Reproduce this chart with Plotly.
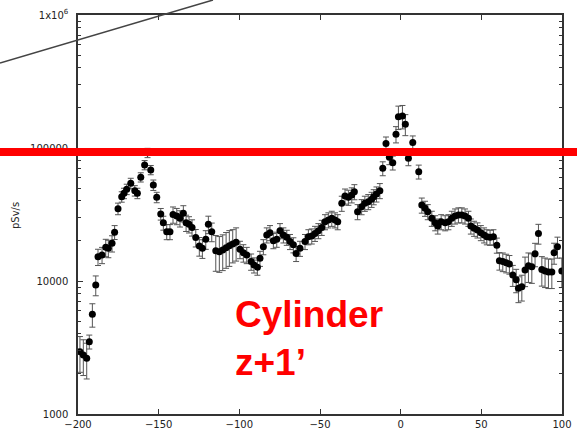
import plotly.graph_objects as go

# position along the cylinder (cm)
z_pos = [
    -198.8, -196.7, -194.6, -193.0, -191.1, -189.0, -187.6, -185.1, -182.8, -181.2,
    -178.9, -177.3, -175.2, -172.9, -171.5, -169.8, -167.3, -164.8, -163.2, -161.1,
    -158.7, -156.9, -154.9, -153.3, -151.2, -148.7, -147.1, -145.0, -143.0, -141.1,
    -138.8, -136.8, -134.7, -133.0, -131.2, -129.3, -127.0, -124.8, -122.9, -120.8,
    -119.2, -117.1, -114.6, -112.4, -110.3, -108.2, -106.2, -104.1, -102.0, -99.6,
    -97.5, -95.4, -92.7, -90.9, -88.8, -87.2, -85.1, -83.0, -81.0, -78.9,
    -76.8, -74.8, -72.7, -70.6, -68.6, -66.5, -64.8, -62.4, -59.3, -57.2,
    -55.1, -53.1, -51.0, -48.9, -46.9, -44.8, -42.7, -40.7, -39.0, -36.5,
    -34.5, -32.4, -30.3, -28.7, -26.7, -24.2, -22.2, -20.1, -18.0, -16.7,
    -15.0, -12.9, -11.1, -9.1, -7.0, -4.9, -2.9, -1.4, 1.1, 2.9,
    4.8, 7.5, 11.2, 13.1, 15.1, 16.8, 19.3, 21.4, 23.0, 25.1,
    27.6, 29.6, 31.7, 33.7, 35.8, 37.9, 39.9, 42.0, 43.5, 45.5,
    47.6, 49.7, 51.7, 53.4, 55.4, 57.5, 59.6, 61.2, 63.3, 65.4,
    67.4, 69.5, 71.6, 73.0, 75.1, 77.1, 79.2, 81.3, 83.3, 85.4,
    87.5, 89.5, 91.6, 93.7, 95.1, 97.2, 99.9,
]

# dose rate (pSv/s)
dose_rate = [
    2940, 2780, 2620, 3500, 5620, 9330, 15200, 15700, 17900, 17600,
    19200, 23300, 35000, 43000, 45700, 49000, 54300, 47800, 45700, 60300,
    74500, 92000, 68400, 52700, 42600, 31900, 27400, 23500, 23500, 31600,
    30800, 29600, 32300, 27400, 26700, 25300, 21200, 18300, 17600, 20600,
    26700, 23500, 16900, 16600, 17100, 17800, 18400, 19000, 19600, 17300,
    16300, 15700, 14000, 13200, 12700, 14800, 18100, 22200, 23100, 20100,
    20600, 23900, 22200, 21300, 19800, 18700, 16100, 17600, 19800, 21500,
    21800, 22800, 23900, 25300, 27900, 28800, 29600, 28800, 27900, 38400,
    43500, 42600, 44400, 46900, 33200, 36200, 38400, 39500, 41100, 43000,
    45100, 47800, 70300, 108000, 85100, 77600, 127000, 172000, 174000, 151000,
    83600, 110000, 66400, 37200, 35200, 33200, 29600, 27400, 25900, 27900,
    27400, 27900, 29600, 30800, 31400, 31400, 30800, 29600, 25900, 24900,
    24200, 23100, 22200, 21500, 21300, 21500, 18600, 14200, 14000, 13700,
    13400, 11100, 10200, 8810, 9060, 12100, 13000, 12800, 16000, 22800,
    12200, 11900, 11700, 11700, 16300, 18100, 11900,
]

# relative uncertainty (%)
err_pct = [
    30, 30, 30, 12, 20, 17, 14, 14, 15, 15,
    14, 12, 10, 9, 9, 9, 9, 9, 9, 8,
    8, 8, 8, 9, 9, 10, 12, 13, 13, 14,
    14, 14, 14, 14, 14, 14, 15, 16, 16, 16,
    15, 16, 30, 30, 30, 30, 30, 28, 28, 15,
    15, 14, 14, 13, 13, 13, 13, 13, 13, 13,
    13, 13, 13, 13, 13, 13, 13, 13, 13, 13,
    13, 13, 13, 13, 13, 13, 13, 13, 13, 13,
    13, 13, 13, 13, 13, 13, 13, 13, 13, 13,
    13, 13, 12, 12, 12, 12, 14, 20, 20, 18,
    12, 12, 12, 13, 13, 13, 13, 13, 13, 13,
    13, 13, 13, 13, 13, 13, 13, 13, 13, 13,
    13, 13, 13, 13, 13, 13, 13, 15, 16, 16,
    16, 18, 20, 22, 22, 25, 25, 25, 20, 17,
    25, 25, 25, 25, 18, 18, 25,
]

x_ticks = [-200, -150, -100, -50, 0, 50, 100]
y_ticks = [1000, 10000, 100000, 1000000]
y_tick_text = ["1000", "10000", "100000", "1x10<sup>6</sup>"]
minor_y = [m * 10 ** e for e in (3, 4, 5) for m in range(2, 10)]

err_abs = [v * p / 100 for v, p in zip(dose_rate, err_pct)]

fig = go.Figure()
fig.add_trace(go.Scatter(
    x=z_pos, y=dose_rate, mode="markers",
    marker=dict(color="black", size=7),
    error_y=dict(type="data", array=err_abs, visible=True,
                 color="#555555", thickness=1, width=3),
    showlegend=False,
))

L, R, T, B = 78, 15, 15, 32
W, H = 577, 446
pw, ph = W - L - R, H - T - B

axis_common = dict(showline=True, linecolor="#333333", linewidth=1.5,
                   mirror="ticks", ticks="inside", ticklen=5, tickcolor="#333333",
                   showgrid=False, zeroline=False, automargin=False,
                   tickfont=dict(family="DejaVu Sans", size=10, color="#222222"))

fig.update_layout(
    template="none",
    width=W, height=H,
    margin=dict(l=L, r=R, t=T, b=B, autoexpand=False),
    paper_bgcolor="white", plot_bgcolor="white",
    xaxis=dict(range=[-200, 100], tickmode="array", tickvals=x_ticks, **axis_common),
    yaxis=dict(type="log", range=[3, 6], tickmode="array", tickvals=y_ticks,
               ticktext=y_tick_text, ticklabelstandoff=6,
               minor=dict(tickmode="array", tickvals=minor_y, ticks="inside",
                          ticklen=3, tickcolor="#333333", showgrid=False),
               **axis_common),
)

# thick red horizontal line across the figure
fig.add_shape(type="line", xref="paper", yref="paper",
              x0=-L / pw, x1=(W - L) / pw,
              y0=(H - B - 152) / ph, y1=(H - B - 152) / ph,
              line=dict(color="#ff0000", width=8), layer="above")

# gray diagonal pointer line
fig.add_shape(type="line", xref="paper", yref="paper",
              x0=-L / pw, y0=(H - B - 63) / ph,
              x1=(213 - L) / pw, y1=(H - B - 0) / ph,
              line=dict(color="#444444", width=1.5), layer="above")

fig.add_annotation(xref="paper", yref="paper", x=(15 - L) / pw, y=(H - B - 215) / ph,
                   xanchor="center", yanchor="middle",
                   text="pSv/s", textangle=-90, showarrow=False,
                   font=dict(family="DejaVu Sans", size=10, color="#222222"))

fig.add_annotation(xref="paper", yref="paper", x=(233 - L) / pw, y=(H - B - 338) / ph,
                   xanchor="left", yanchor="middle", align="left",
                   text="<b>Cylinder<br>z+1’</b>", showarrow=False,
                   font=dict(family="Liberation Sans, Arial", size=37, color="#ff0000"))

fig.write_html("out.html", config={"displayModeBar": False},
               post_script="document.body.style.margin='0';document.body.style.overflow='hidden';")
